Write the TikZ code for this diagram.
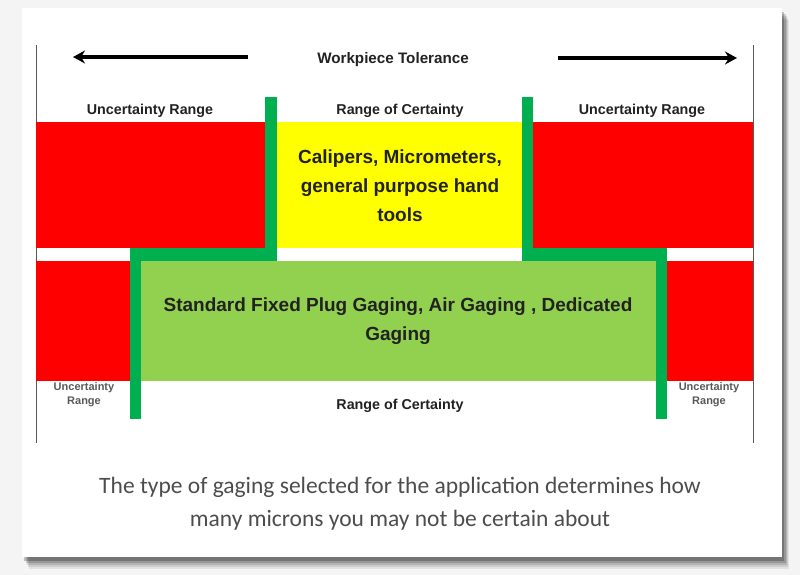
\documentclass[tikz,border=0pt]{standalone}
\usepackage{fontspec}
\setmainfont{Liberation Sans}
\newfontfamily\capfont{Carlito}
\usetikzlibrary{arrows.meta}
\definecolor{redbox}{HTML}{FF0000}
\definecolor{yellowbox}{HTML}{FFFF00}
\definecolor{lightgreen}{HTML}{92D050}
\definecolor{darkgreen}{HTML}{00B050}
\definecolor{labelgray}{HTML}{222222}
\definecolor{capgray}{HTML}{4D4D4D}
\definecolor{bggray}{HTML}{F4F4F4}
\tikzset{
  lbl/.style={font=\bfseries\fontsize{14.3}{16}\selectfont, text=labelgray, inner sep=0pt},
  smalllbl/.style={font=\bfseries\fontsize{11}{14}\selectfont, text=labelgray!75, inner sep=0pt, align=center},
  boxtext/.style={font=\bfseries\fontsize{19}{29}\selectfont, text=labelgray, inner sep=0pt, align=center},
  captext/.style={font=\capfont\fontsize{23.5}{33}\selectfont, text=capgray, inner sep=0pt, align=center},
  bigarrow/.style={line width=3.2pt, -{Stealth[length=12pt,width=13pt]}},
  edgeline/.style={draw=black!65, line width=1pt}
}
\begin{document}
\begin{tikzpicture}[x=1pt,y=-1pt]
\useasboundingbox (0,0) rectangle (800,575);
% background and card with shadow
\fill[bggray] (0,0) rectangle (800,575);
\foreach \o/\op in {12/0.07,10/0.09,8/0.12,6/0.16,4/0.22}{
  \fill[black,opacity=\op] (22+\o*0.6,8+\o) rectangle (782+\o*0.6,557+\o);
}
\fill[white] (22,8) rectangle (782,557);
% boundary lines
\coordinate (lt) at (36,45); \coordinate (lb) at (36,443);
\coordinate (rt) at (753,45); \coordinate (rb) at (753,443);
\draw[edgeline] (lt) -- (lb);
\draw[edgeline] (rt) -- (rb);
% arrows
\coordinate (la1) at (248,57); \coordinate (la2) at (73,57);
\coordinate (ra1) at (558,58); \coordinate (ra2) at (737,58);
\draw[bigarrow] (la1) -- (la2);
\draw[bigarrow] (ra1) -- (ra2);
% top row
\fill[redbox] (36,122) rectangle (265,248);
\fill[yellowbox] (277,122) rectangle (522,248);
\fill[redbox] (533,122) rectangle (753,248);
% bottom row
\fill[redbox] (36,261) rectangle (130,381);
\fill[lightgreen] (141,261) rectangle (656,381);
\fill[redbox] (667,261) rectangle (753,381);
% green L lines
\fill[darkgreen] (265,97) rectangle (277,261);
\fill[darkgreen] (130,248) rectangle (277,261);
\fill[darkgreen] (130,248) rectangle (141,419);
\fill[darkgreen] (522,97) rectangle (533,261);
\fill[darkgreen] (522,248) rectangle (667,261);
\fill[darkgreen] (656,248) rectangle (667,419);
% texts
\node[lbl, font=\bfseries\fontsize{15.2}{17}\selectfont] (wt) at (393,60) {Workpiece Tolerance};
\node[lbl] (ul) at (150,111) {Uncertainty Range};
\node[lbl] (rc) at (400,111) {Range of Certainty};
\node[lbl] (ur) at (642,111) {Uncertainty Range};
\node[boxtext] (cal) at (400,186) {Calipers, Micrometers,\\general purpose hand\\tools};
\node[boxtext] (std) at (398,321) {Standard Fixed Plug Gaging, Air Gaging , Dedicated\\Gaging};
\node[smalllbl] (ubl) at (84,395) {Uncertainty\\Range};
\node[smalllbl] (ubr) at (709,395) {Uncertainty\\Range};
\node[lbl] (rcb) at (400,406) {Range of Certainty};
\node[captext] (cap) at (400,504) {The type of gaging selected for the application determines how\\many microns you may not be certain about};
\end{tikzpicture}
\end{document}
